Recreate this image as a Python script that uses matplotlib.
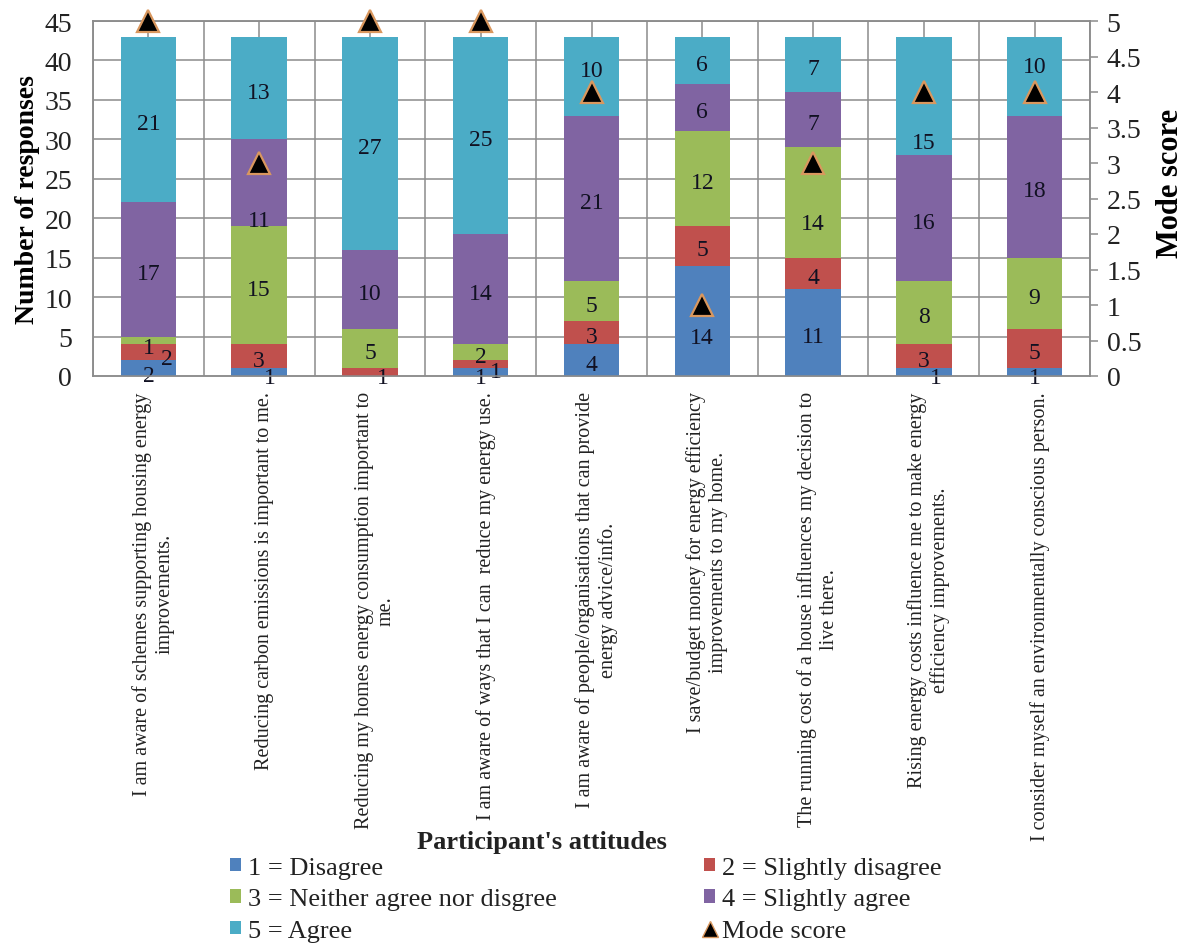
import matplotlib
matplotlib.use("Agg")
import matplotlib.pyplot as plt
import matplotlib.transforms as mtransforms
from matplotlib.lines import Line2D
from matplotlib.patches import Patch
import numpy as np

plt.rcParams['font.family'] = ['Liberation Serif', 'DejaVu Serif']

# ---- data -------------------------------------------------------------
statements = [
    "I am aware of schemes supporting housing energy\nimprovements.",
    "Reducing carbon emissions is important to me.",
    "Reducing my homes energy consumption important to\nme.",
    "I am aware of ways that I can  reduce my energy use.",
    "I am aware of people/organisations that can provide\nenergy advice/info.",
    "I save/budget money for energy efficiency\nimprovements to my home.",
    "The running cost of a house influences my decision to\nlive there.",
    "Rising energy costs influence me to make energy\nefficiency improvements.",
    "I consider myself an environmentally conscious person.",
]
disagree = [2, 1, 0, 1, 4, 14, 11, 1, 1]
slightly_disagree = [2, 3, 1, 1, 3, 5, 4, 3, 5]
neither = [1, 15, 5, 2, 5, 12, 14, 8, 9]
slightly_agree = [17, 11, 10, 14, 21, 6, 7, 16, 18]
agree = [21, 13, 27, 25, 10, 6, 7, 15, 10]
mode_score = [5, 3, 5, 5, 4, 1, 3, 4, 4]

series_names = ["1 = Disagree", "2 = Slightly disagree",
                "3 = Neither agree nor disgree", "4 = Slightly agree",
                "5 = Agree"]
series_values = [disagree, slightly_disagree, neither, slightly_agree, agree]
colors = ["#4F81BD", "#C0504D", "#9BBB59", "#8064A2", "#4BACC6"]

# label nudges (pixels) to keep small segments and the mode markers readable
nudges = {
    (0, 0): (0, -3), (1, 0): (18, -2), (2, 0): (0, -3),
    (0, 1): (11, -1), (3, 1): (0, -34),
    (1, 2): (13, -1),
    (0, 3): (0, -1), (1, 3): (15, -3),
    (4, 4): (0, 10),
    (0, 5): (0, -13),
    (2, 6): (0, -17),
    (0, 7): (12, -1), (4, 7): (0, -43),
    (0, 8): (0, -1), (4, 8): (0, 14),
}
LABEL_BASE_DY = -4  # digits sit visually centred with this shift

# ---- figure -----------------------------------------------------------
W, H = 1185, 945
fig = plt.figure(figsize=(W / 100, H / 100), dpi=100)
L, R, T, B = 93, 1090, 22, 377
ax = fig.add_axes([L / W, 1 - B / H, (R - L) / W, (B - T) / H])

x = np.arange(len(statements))
grid_c = "#8C8C8C"

bottom = np.zeros(len(statements))
for s, (vals, col) in enumerate(zip(series_values, colors)):
    vals = np.array(vals, dtype=float)
    ax.bar(x, vals, width=0.5, bottom=bottom, color=col, zorder=3,
           linewidth=0)
    for i, v in enumerate(vals):
        if v <= 0:
            continue
        dx, dy = nudges.get((s, i), (0, 0))
        ax.annotate(f"{int(v)}", xy=(i, bottom[i] + v / 2),
                    xytext=(dx, dy + LABEL_BASE_DY),
                    textcoords='offset pixels',
                    ha='center', va='center', fontsize=17,
                    color="#111122", zorder=5)
    bottom += vals

ax.set_xlim(-0.5, len(statements) - 0.5)
ax.set_ylim(0, 45)
ax.set_yticks(np.arange(0, 46, 5))
ax.tick_params(axis='y', length=0, pad=15, labelsize=20, colors="#222222")
ax.set_xticks(x)
ax.set_xticklabels(statements, rotation=90, ha='center', va='top',
                   multialignment='center', fontsize=14.5, color="#222222")
ax.tick_params(axis='x', length=0, pad=11)
shift = mtransforms.ScaledTranslation(5 / 100, 0, fig.dpi_scale_trans)
for lbl in ax.get_xticklabels():
    lbl.set_transform(lbl.get_transform() + shift)

# grid: horizontal every 5, vertical at every half category
for yv in np.arange(5, 46, 5):
    ax.axhline(yv, color=grid_c, lw=1.1, zorder=1)
for xv in np.arange(-0.5, len(statements), 0.5):
    ax.axvline(xv, color=grid_c, lw=1.1, zorder=1)
for sp in ax.spines.values():
    sp.set_color(grid_c)
    sp.set_linewidth(1.1)

ax.set_ylabel("Number of responses", fontsize=20, fontweight='bold',
              labelpad=3)

# secondary axis for the mode score
ax2 = ax.twinx()
ax2.set_ylim(0, 5)
ax2.set_yticks(np.arange(0, 5.01, 0.5))
ax2.set_yticklabels([f"{v:g}" for v in np.arange(0, 5.01, 0.5)])
ax2.tick_params(axis='y', length=6, width=1.1, pad=6, labelsize=20,
                colors=grid_c, labelcolor="#222222")
for sp in ax2.spines.values():
    sp.set_color(grid_c)
    sp.set_linewidth(1.1)
ax2.plot(x, mode_score, linestyle='none', marker='^', markersize=16,
         markerfacecolor='black', markeredgecolor='#D9975E',
         markeredgewidth=1.6, zorder=6, clip_on=False)
ax2.set_ylabel("Mode score", fontsize=22, fontweight='bold')
ax2.yaxis.set_label_coords(1.066, 0.545)

fig.text(542 / W, 1 - 843 / H, "Participant's attitudes", ha='center',
         va='center', fontsize=19, fontweight='bold', color="#222222")

# legend in two explicit columns
def square(c):
    return Patch(facecolor=c, edgecolor='none')

mode_handle = Line2D([], [], linestyle='none', marker='^', markersize=11,
                     markerfacecolor='black', markeredgecolor='#D9975E',
                     markeredgewidth=1.0)
leg_kw = dict(frameon=False, fontsize=19, handlelength=0.42,
              handleheight=0.42, handletextpad=0.25, labelspacing=0.36,
              borderaxespad=0, borderpad=0)
leg1 = fig.legend([square(colors[0]), square(colors[2]), square(colors[4])],
                  [series_names[0], series_names[2], series_names[4]],
                  loc='upper left', bbox_to_anchor=(230 / W, 1 - 858 / H),
                  **leg_kw)
leg2 = fig.legend([square(colors[1]), square(colors[3]), mode_handle],
                  [series_names[1], series_names[3], "Mode score"],
                  loc='upper left', bbox_to_anchor=(704 / W, 1 - 858 / H),
                  **leg_kw)
for lg in (leg1, leg2):
    for t in lg.get_texts():
        t.set_color("#222222")

fig.savefig("out.png", dpi=100, facecolor='white')
